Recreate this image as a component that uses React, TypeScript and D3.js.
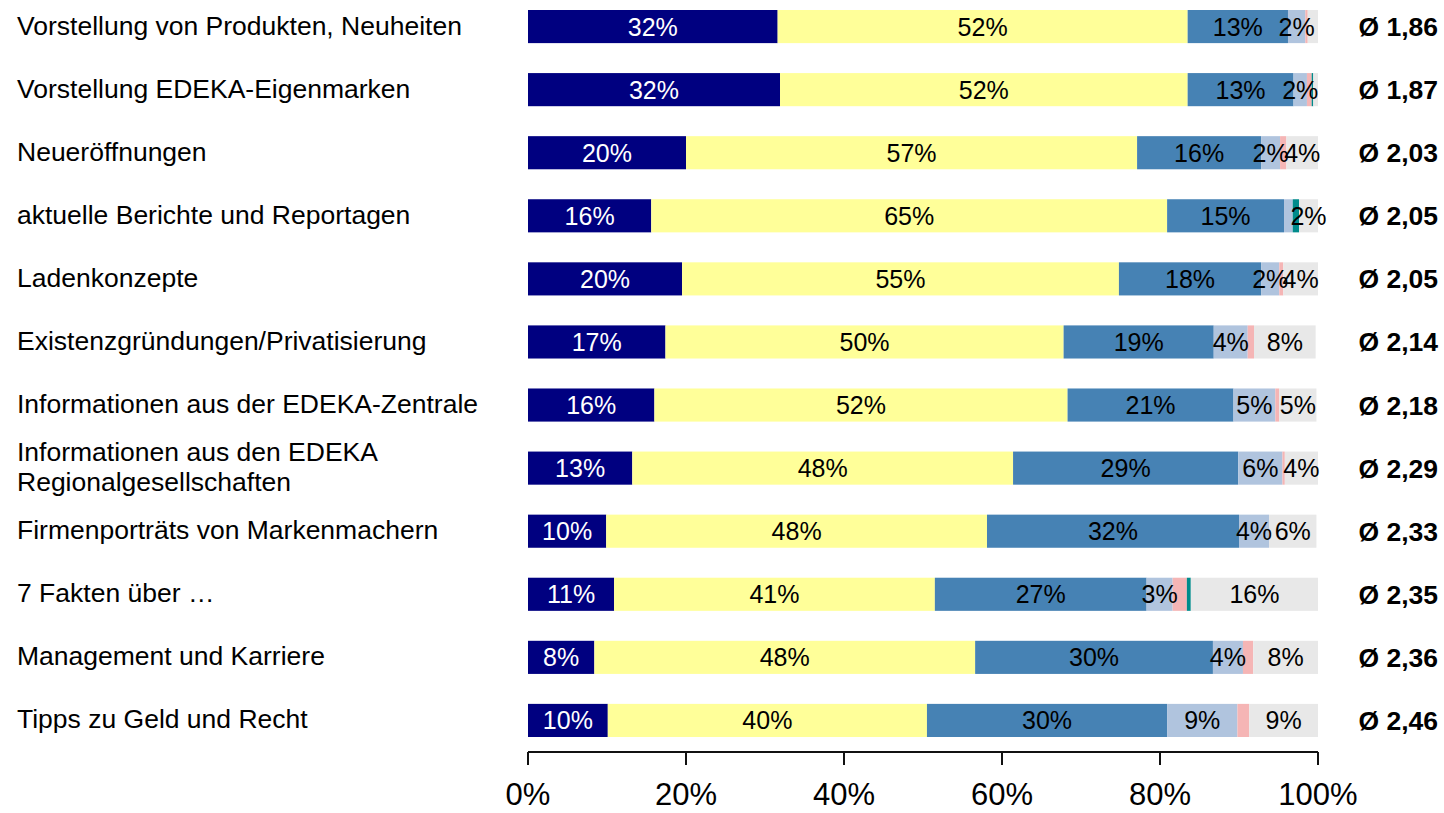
import React from 'react';
import * as d3 from 'd3';

// topics, top to bottom
const topics = [
  ['Vorstellung von Produkten, Neuheiten'],
  ['Vorstellung EDEKA-Eigenmarken'],
  ['Neueröffnungen'],
  ['aktuelle Berichte und Reportagen'],
  ['Ladenkonzepte'],
  ['Existenzgründungen/Privatisierung'],
  ['Informationen aus der EDEKA-Zentrale'],
  ['Informationen aus den EDEKA', 'Regionalgesellschaften'],
  ['Firmenporträts von Markenmachern'],
  ['7 Fakten über …'],
  ['Management und Karriere'],
  ['Tipps zu Geld und Recht'],
];

const averages = ['Ø 1,86', 'Ø 1,87', 'Ø 2,03', 'Ø 2,05', 'Ø 2,05', 'Ø 2,14', 'Ø 2,18', 'Ø 2,29', 'Ø 2,33', 'Ø 2,35', 'Ø 2,36', 'Ø 2,46'];

// shares per answer category (percent)
const grade1 = [31.6, 31.9, 20.0, 15.6, 19.5, 17.4, 16.0, 13.2, 9.9, 10.9, 8.4, 10.1];
const grade2 = [51.9, 51.6, 57.1, 65.3, 55.3, 50.4, 52.3, 48.2, 48.2, 40.6, 48.2, 40.4];
const grade3 = [12.7, 13.4, 15.7, 14.8, 18.0, 19.0, 21.0, 28.5, 31.9, 26.8, 30.1, 30.4];
const grade4 = [2.2, 1.7, 2.4, 1.1, 2.3, 4.3, 5.3, 5.6, 3.8, 3.3, 3.8, 8.9];
const grade5 = [0.3, 0.6, 0.8, 0, 0.5, 0.8, 0.5, 0.3, 0, 1.8, 1.3, 1.5];
const grade6 = [0, 0.2, 0, 0.8, 0, 0, 0, 0, 0, 0.5, 0, 0];
const noAnswer = [1.3, 0.6, 4.0, 2.4, 4.4, 7.8, 4.7, 4.2, 6.0, 16.1, 8.2, 8.7];

const series = [
  { values: grade1, color: '#000080', text: '#ffffff', label: true },
  { values: grade2, color: '#ffff99', text: '#000000', label: true },
  { values: grade3, color: '#4682b4', text: '#000000', label: true },
  { values: grade4, color: '#b0c4de', text: '#000000', label: true },
  { values: grade5, color: '#f5b5b5', text: '#000000', label: false },
  { values: grade6, color: '#008b8b', text: '#000000', label: false },
  { values: noAnswer, color: '#e8e8e8', text: '#000000', label: true },
];

const ticks = [0, 20, 40, 60, 80, 100];

const font = 'Arial, "Liberation Sans", sans-serif';

export default function App() {
  const width = 1444;
  const height = 813;
  const x = d3.scaleLinear().domain([0, 100]).range([528, 1318]);
  const y = d3
    .scaleBand<number>()
    .domain(d3.range(topics.length))
    .range([10, 737])
    .paddingInner(0.475)
    .paddingOuter(0);
  const bh = y.bandwidth();

  const bars: React.ReactNode[] = [];
  const labels: React.ReactNode[] = [];
  topics.forEach((_, i) => {
    let acc = 0;
    series.forEach((s, j) => {
      const v = s.values[i];
      const x0 = x(acc);
      const x1 = x(acc + v);
      acc += v;
      if (v <= 0) return;
      bars.push(
        <rect key={`b${i}-${j}`} x={x0} y={y(i)} width={x1 - x0} height={bh} fill={s.color} />
      );
      if (s.label && Math.round(v) >= 2) {
        labels.push(
          <text
            key={`t${i}-${j}`}
            x={(x0 + x1) / 2}
            y={(y(i) as number) + bh / 2}
            dy="0.36em"
            textAnchor="middle"
            fontSize={25}
            fill={s.text}
          >
            {Math.round(v)}%
          </text>
        );
      }
    });
  });

  return (
    <svg
      width={width}
      height={height}
      style={{ position: 'absolute', left: 0, top: 0, background: '#fff' }}
      fontFamily={font}
    >
      {topics.map((lines, i) => {
        const cy = (y(i) as number) + bh / 2;
        return (
          <text key={`l${i}`} x={17} y={cy} fontSize={26.5} fill="#000">
            {lines.map((ln, k) => (
              <tspan key={k} x={17} y={cy + (k - (lines.length - 1) / 2) * 30} dy="0.3em">
                {ln}
              </tspan>
            ))}
          </text>
        );
      })}
      {bars}
      {labels}
      {averages.map((a, i) => (
        <text
          key={`a${i}`}
          x={1438}
          y={(y(i) as number) + bh / 2}
          dy="0.36em"
          textAnchor="end"
          fontSize={26.5}
          fontWeight="bold"
        >
          {a}
        </text>
      ))}
      <g>
        <line x1={x(0)} x2={x(100)} y1={752} y2={752} stroke="#111" strokeWidth={2} />
        {ticks.map((t) => (
          <g key={t}>
            <line x1={x(t)} x2={x(t)} y1={752} y2={765} stroke="#111" strokeWidth={2} />
            <text x={x(t)} y={805} textAnchor="middle" fontSize={31}>
              {t}%
            </text>
          </g>
        ))}
      </g>
    </svg>
  );
}
